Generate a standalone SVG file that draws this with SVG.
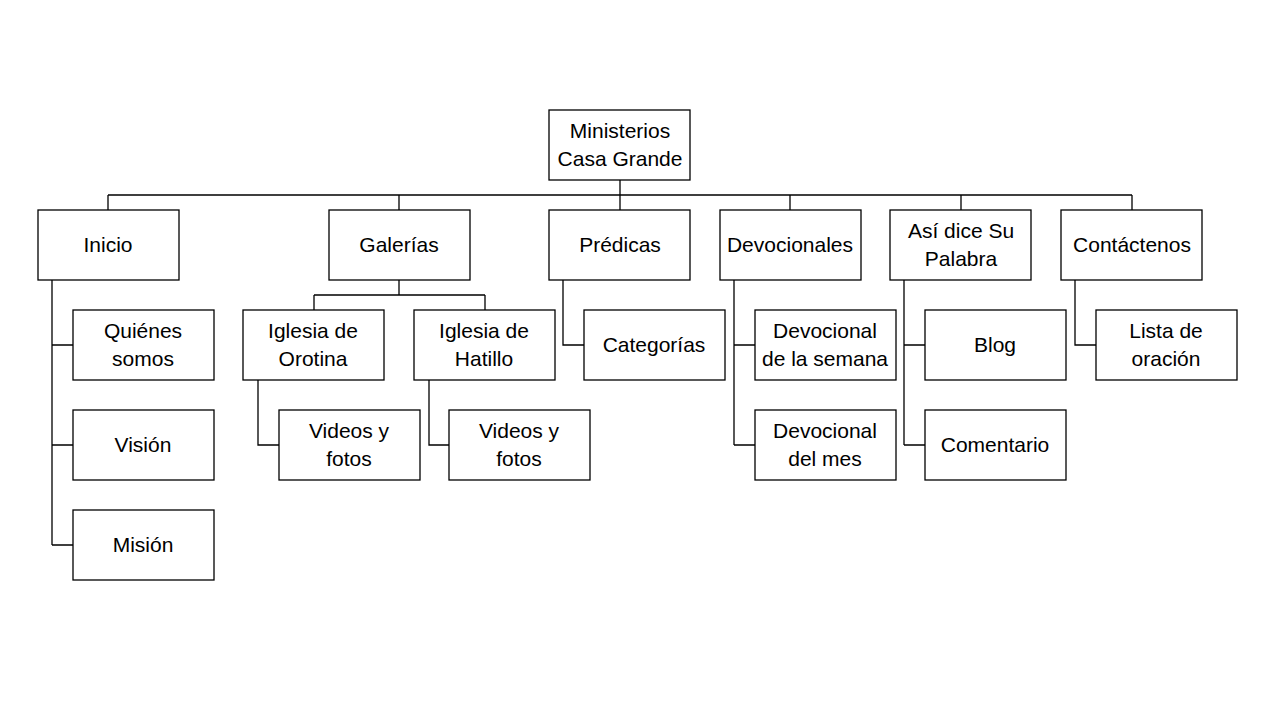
<svg xmlns="http://www.w3.org/2000/svg" width="1280" height="720" viewBox="0 0 1280 720">
<style>
.n rect{fill:#fff;stroke:#000;stroke-width:1.3}
.n text{font-family:"Liberation Sans",Arial,sans-serif;font-size:21px;fill:#000;text-anchor:middle}
#connectors path{fill:none;stroke:#000;stroke-width:1.3}
</style>
<rect width="1280" height="720" fill="#fff"/>
<g id="connectors">
<path d="M620 180V195M108 195H1132M108 195V210M399 195V210M620 195V210M790 195V210M961 195V210M1132 195V210"/>
<path d="M52 280V545M52 345H73M52 445H73M52 545H73"/>
<path d="M399 280V295M314 295H485M314 295V310M485 295V310"/>
<path d="M258 380V445H279M429 380V445H449"/>
<path d="M563 280V345H584"/>
<path d="M734 280V445M734 345H755M734 445H755"/>
<path d="M904 280V445M904 345H925M904 445H925"/>
<path d="M1075 280V345H1096"/>
</g>
<g id="root" class="n"><rect x="549" y="110" width="141" height="70"/><text x="620" y="138">Ministerios</text><text x="620" y="166">Casa Grande</text></g>
<g id="inicio" class="n"><rect x="38" y="210" width="141" height="70"/><text x="108" y="252">Inicio</text></g>
<g id="galerias" class="n"><rect x="329" y="210" width="141" height="70"/><text x="399" y="252">Galerías</text></g>
<g id="predicas" class="n"><rect x="549" y="210" width="141" height="70"/><text x="620" y="252">Prédicas</text></g>
<g id="devocionales" class="n"><rect x="720" y="210" width="141" height="70"/><text x="790" y="252">Devocionales</text></g>
<g id="asidice" class="n"><rect x="890" y="210" width="141" height="70"/><text x="961" y="238">Así dice Su</text><text x="961" y="266">Palabra</text></g>
<g id="contactenos" class="n"><rect x="1061" y="210" width="141" height="70"/><text x="1132" y="252">Contáctenos</text></g>
<g id="quienes" class="n"><rect x="73" y="310" width="141" height="70"/><text x="143" y="338">Quiénes</text><text x="143" y="366">somos</text></g>
<g id="vision" class="n"><rect x="73" y="410" width="141" height="70"/><text x="143" y="452">Visión</text></g>
<g id="mision" class="n"><rect x="73" y="510" width="141" height="70"/><text x="143" y="552">Misión</text></g>
<g id="orotina" class="n"><rect x="243" y="310" width="141" height="70"/><text x="313" y="338">Iglesia de</text><text x="313" y="366">Orotina</text></g>
<g id="hatillo" class="n"><rect x="414" y="310" width="141" height="70"/><text x="484" y="338">Iglesia de</text><text x="484" y="366">Hatillo</text></g>
<g id="videos1" class="n"><rect x="279" y="410" width="141" height="70"/><text x="349" y="438">Videos y</text><text x="349" y="466">fotos</text></g>
<g id="videos2" class="n"><rect x="449" y="410" width="141" height="70"/><text x="519" y="438">Videos y</text><text x="519" y="466">fotos</text></g>
<g id="categorias" class="n"><rect x="584" y="310" width="141" height="70"/><text x="654" y="352">Categorías</text></g>
<g id="devsemana" class="n"><rect x="755" y="310" width="141" height="70"/><text x="825" y="338">Devocional</text><text x="825" y="366">de la semana</text></g>
<g id="devmes" class="n"><rect x="755" y="410" width="141" height="70"/><text x="825" y="438">Devocional</text><text x="825" y="466">del mes</text></g>
<g id="blog" class="n"><rect x="925" y="310" width="141" height="70"/><text x="995" y="352">Blog</text></g>
<g id="comentario" class="n"><rect x="925" y="410" width="141" height="70"/><text x="995" y="452">Comentario</text></g>
<g id="lista" class="n"><rect x="1096" y="310" width="141" height="70"/><text x="1166" y="338">Lista de</text><text x="1166" y="366">oración</text></g>
</svg>
